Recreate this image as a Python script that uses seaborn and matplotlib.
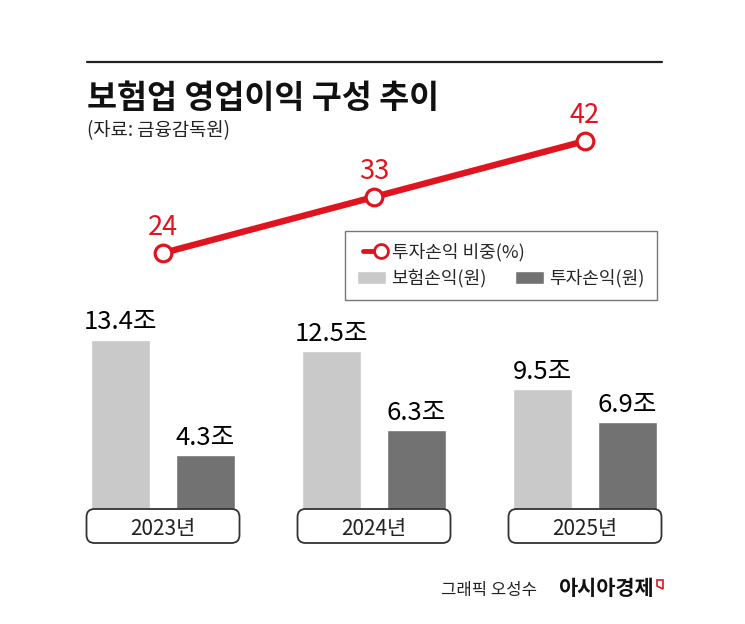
import pandas as pd
import matplotlib
matplotlib.use("Agg")
import matplotlib.pyplot as plt
import seaborn as sns
from matplotlib.patches import FancyBboxPatch, Patch, Polygon
from matplotlib.lines import Line2D
from matplotlib.legend_handler import HandlerLine2D

# data
years = ["2023년", "2024년", "2025년"]
insurance_profit = [13.4, 12.5, 9.5]     # 보험손익 (조원)
investment_profit = [4.3, 6.3, 6.9]      # 투자손익 (조원)
investment_share = [24, 33, 42]          # 투자손익 비중 (%)

RED = "#e0141e"
LIGHT = "#c9c9c9"
DARK = "#727272"

sns.set_theme(style="white")
plt.rcParams['font.family'] = ['Noto Sans CJK KR', 'DejaVu Sans']

W, H = 745, 624
fig = plt.figure(figsize=(W / 100, H / 100), dpi=100)
fig.patch.set_facecolor("white")


def fy(px):
    return 1 - px / H


# marker only at the right end of the legend line
class EndMarkerHandler(HandlerLine2D):
    def create_artists(self, legend, orig_handle, xdescent, ydescent,
                       width, height, fontsize, trans):
        arts = super().create_artists(legend, orig_handle, xdescent, ydescent,
                                      width, height, fontsize, trans)
        for a in arts:
            if isinstance(a, Line2D):
                a.set_markevery([len(a.get_xdata()) - 1])
        return arts


# category spacing in pixels, first category centre
STEP = 211
C0 = 163
xlim = (-C0 / STEP, (W - C0) / STEP)

# ---- bars ----
BAR_PX = 12.7  # pixels per 1조
ax = fig.add_axes([0, fy(550), 1, 250 / H])
df = pd.DataFrame({
    "year": years * 2,
    "kind": ["보험손익(원)"] * 3 + ["투자손익(원)"] * 3,
    "value": insurance_profit + investment_profit,
})
sns.barplot(data=df, x="year", y="value", hue="kind", palette=[LIGHT, DARK],
            width=0.8, gap=0.3, saturation=1, ax=ax, legend=False)
ax.set_xlim(*xlim)
ax.set_ylim(-40 / BAR_PX, 210 / BAR_PX)
ax.axis("off")

for cont in ax.containers:
    for bar in cont:
        v = bar.get_height()
        ax.annotate(f"{v:.1f}조", (bar.get_x() + bar.get_width() / 2, v),
                    xytext=(0, 7.5), textcoords="offset points",
                    ha="center", va="baseline", fontsize=18.5, color="#000")

# year boxes under the bars
box_w = 153 / STEP
box_top = 1 / BAR_PX
box_bot = -33 / BAR_PX
r = 8
for i, yr in enumerate(years):
    p = FancyBboxPatch((i - box_w / 2, box_bot), box_w, box_top - box_bot,
                       boxstyle=f"round,pad=0,rounding_size={r / STEP}",
                       mutation_aspect=STEP / BAR_PX,
                       fc="white", ec="#333", lw=1.3, zorder=5)
    ax.add_patch(p)
    ax.text(i, (box_top + box_bot) / 2, yr, ha="center", va="center_baseline",
            fontsize=15, color="#222", zorder=6)

# ---- line ----
LINE_PX = 6.222  # pixels per 1%
ax2 = fig.add_axes([0, fy(290), 1, 190 / H])
ax2.patch.set_alpha(0)
sns.lineplot(x=years, y=investment_share, ax=ax2, color=RED, lw=4.6,
             marker="o", markersize=12, markerfacecolor="white",
             markeredgecolor=RED, markeredgewidth=2.3, sort=False)
ax2.set_xlim(*xlim)
ax2.set_ylim(24 - 37 / LINE_PX, 24 + 153 / LINE_PX)
ax2.axis("off")
for i, v in enumerate(investment_share):
    ax2.annotate(str(v), (i, v), xytext=(0, 13), textcoords="offset points",
                 ha="center", va="baseline", fontsize=19.5, color=RED)

# ---- legend ----
line_h = Line2D([], [], color=RED, lw=3.5, marker="o", markersize=10,
                markerfacecolor="white", markeredgecolor=RED,
                markeredgewidth=2)
blank = Patch(alpha=0)
leg = fig.legend(handles=[line_h, Patch(fc=LIGHT), blank, Patch(fc=DARK)],
                 labels=["투자손익 비중(%)", "보험손익(원)", "", "투자손익(원)"],
                 ncol=2, loc="upper left",
                 bbox_to_anchor=(345 / W, fy(299), 312 / W, 68 / H),
                 mode="expand", borderaxespad=0, fancybox=False,
                 frameon=True, edgecolor="#555", fontsize=13,
                 handlelength=1.6, handleheight=0.7, handletextpad=0.3,
                 labelspacing=0.4, borderpad=0.68, columnspacing=0.5,
                 handler_map={line_h: EndMarkerHandler(numpoints=2)})
leg.get_frame().set_linewidth(1.0)

# ---- title block ----
fig.add_artist(Line2D([87 / W, 662 / W], [fy(62), fy(62)], color="#222", lw=1.6))
fig.text(87 / W, fy(108), "보험업 영업이익 구성 추이", fontsize=23.5,
         weight="heavy", va="baseline", color="#111")
fig.text(87 / W, fy(136), "(자료: 금융감독원)", fontsize=13.5,
         va="baseline", color="#222")

# ---- footer ----
fig.text(537 / W, fy(595), "그래픽 오성수", ha="right", va="baseline",
         fontsize=12, color="#222")
fig.text(654 / W, fy(595), "아시아경제", ha="right", va="baseline",
         fontsize=15, weight="bold", color="#111")
fig.add_artist(Polygon([[657 / W, fy(580)], [663 / W, fy(580)],
                        [663 / W, fy(589)], [657 / W, fy(586)]],
                       closed=True, fill=False, ec=RED, lw=1.2,
                       transform=fig.transFigure))

fig.savefig("out.png", dpi=100, facecolor="white")
